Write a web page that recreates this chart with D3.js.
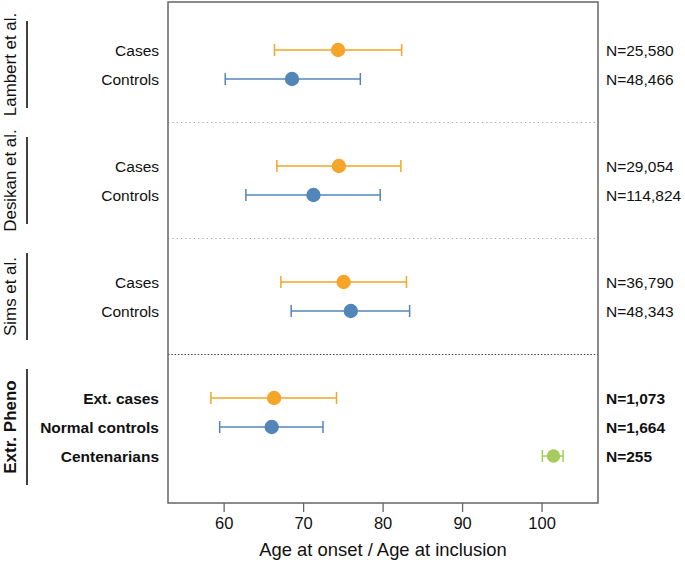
<!DOCTYPE html>
<html><head><meta charset="utf-8">
<script src="https://cdn.jsdelivr.net/npm/d3@7"></script>
<style>body{margin:0;background:#fff}svg{display:block;font-family:Arial,"Liberation Sans",Helvetica,sans-serif}</style>
</head><body>
<svg id="c" width="685" height="567"></svg>
<script>
// Data
const groups = ["Lambert et al.", "Desikan et al.", "Sims et al.", "Extr. Pheno"];
const rowLabels = ["Cases","Controls","Cases","Controls","Cases","Controls","Ext. cases","Normal controls","Centenarians"];
const rowGroup = [0,0,1,1,2,2,3,3,3];
const rowType = ["case","control","case","control","case","control","case","control","cent"];
const means = [74.4, 68.6, 74.5, 71.3, 75.1, 76.0, 66.35, 66.05, 101.5];
const lows  = [66.4, 60.2, 66.7, 62.8, 67.2, 68.5, 58.4, 59.5, 100.1];
const highs = [82.4, 77.2, 82.3, 79.7, 83.0, 83.4, 74.2, 72.5, 102.7];
const nLabels = ["N=25,580","N=48,466","N=29,054","N=114,824","N=36,790","N=48,343","N=1,073","N=1,664","N=255"];
const rowPos = [0,1,4,5,8,9,12,13,14];
const separators = [2.5, 6.5, 10.5];
const xTicks = [60,70,80,90,100];

const colors = {case:"#F5A52A", control:"#5286B8", cent:"#A5CB5C"};

const svg = d3.select("#c");
const L = 168, R = 598, T = 2, B = 503;
const x = d3.scaleLinear().domain([53.0, 107.1]).range([L, R]);
const y = d3.scaleLinear().domain([-1.655, 15.62]).range([T, B]);

// separators
separators.forEach((s,i)=>{
  svg.append("line").attr("x1",L).attr("x2",R).attr("y1",y(s)).attr("y2",y(s))
    .attr("stroke", i<2 ? "#aaa" : "#444").attr("stroke-width",1)
    .attr("stroke-dasharray", i<2 ? "1.3,3" : "1.5,1.8");
});

// frame
svg.append("rect").attr("x",L).attr("y",T).attr("width",R-L).attr("height",B-T)
  .attr("fill","none").attr("stroke","#666").attr("stroke-width",1.5);

// axis
const ax = svg.append("g").attr("transform",`translate(0,${B})`)
  .call(d3.axisBottom(x).tickValues(xTicks).tickSize(9).tickPadding(5).tickFormat(d3.format("d")));
ax.select(".domain").remove();
ax.selectAll(".tick line").attr("stroke","#666").attr("stroke-width",1.3);
ax.selectAll(".tick text").attr("font-size",16.5).attr("fill","#111").attr("font-family","Arial,'Liberation Sans',sans-serif");
svg.append("text").attr("x",(L+R)/2).attr("y",556).attr("text-anchor","middle")
  .attr("font-size",18.4).attr("fill","#111").text("Age at onset / Age at inclusion");

// error bars & points
const rows = rowLabels.map((l,i)=>({l,i,g:rowGroup[i],t:rowType[i],m:means[i],lo:lows[i],hi:highs[i],n:nLabels[i],p:rowPos[i]}));
const rg = svg.append("g").selectAll("g").data(rows).join("g");
rg.append("line").attr("x1",d=>x(d.lo)).attr("x2",d=>x(d.hi)).attr("y1",d=>y(d.p)).attr("y2",d=>y(d.p))
  .attr("stroke",d=>colors[d.t]).attr("stroke-width",1.5);
[["lo"],["hi"]].forEach(([k])=>{
  rg.append("line").attr("x1",d=>x(d[k])).attr("x2",d=>x(d[k])).attr("y1",d=>y(d.p)-6).attr("y2",d=>y(d.p)+6)
    .attr("stroke",d=>colors[d.t]).attr("stroke-width",1.5);
});
rg.append("circle").attr("cx",d=>x(d.m)).attr("cy",d=>y(d.p)).attr("r",d=>d.t==="cent"?6.7:7.2)
  .attr("fill",d=>colors[d.t]);

// row labels
rg.append("text").attr("x",159).attr("y",d=>y(d.p)).attr("dy","0.36em").attr("text-anchor","end")
  .attr("font-size",15.5).attr("fill","#111").attr("font-weight",d=>d.g===3?"bold":"normal").text(d=>d.l);
rg.append("text").attr("x",606).attr("y",d=>y(d.p)).attr("dy","0.36em")
  .attr("font-size",15.5).attr("fill","#111").attr("font-weight",d=>d.g===3?"bold":"normal").text(d=>d.n);

// group labels
groups.forEach((g,gi)=>{
  const ps = rows.filter(r=>r.g===gi).map(r=>r.p);
  const p0 = d3.min(ps)-1, p1 = d3.max(ps)+1, pc=(d3.min(ps)+d3.max(ps))/2;
  svg.append("line").attr("x1",27).attr("x2",27).attr("y1",y(p0)).attr("y2",y(p1))
    .attr("stroke","#111").attr("stroke-width",1.6);
  svg.append("text").attr("transform",`translate(15.5,${y(pc)}) rotate(-90)`).attr("text-anchor","middle")
    .attr("font-size",gi===3?17:16.9).attr("font-weight",gi===3?"bold":"normal").attr("fill","#111").text(g);
});
</script>
</body></html>
